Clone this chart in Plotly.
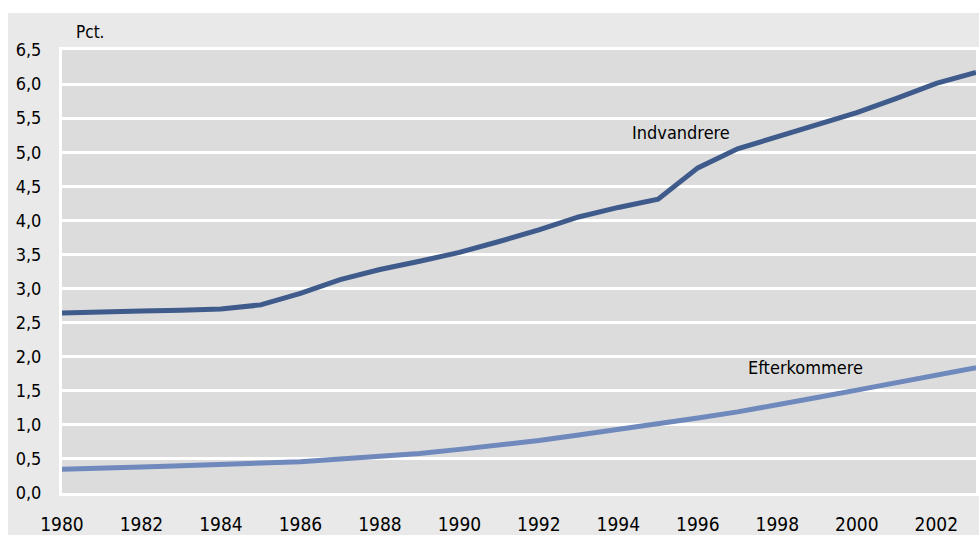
import plotly.graph_objects as go

years = list(range(1980, 2004))
indvandrere = [2.64, 2.66, 2.67, 2.68, 2.70, 2.76, 2.93, 3.13, 3.28, 3.40, 3.53, 3.69,
               3.86, 4.05, 4.19, 4.31, 4.77, 5.05, 5.23, 5.41, 5.58, 5.79, 6.01, 6.17]
efterkommere = [0.35, 0.36, 0.38, 0.40, 0.42, 0.44, 0.46, 0.50, 0.54, 0.58, 0.64, 0.70,
                0.77, 0.85, 0.93, 1.01, 1.10, 1.19, 1.29, 1.40, 1.51, 1.62, 1.73, 1.84]
y_ticks = [i * 0.5 for i in range(14)]
x_ticks = list(range(1980, 2004, 2))

FONT = "Liberation Sans Narrow, DejaVu Sans Condensed, Arial Narrow, sans-serif"
DARK = "#3f5b8c"
LIGHT = "#6f89bc"

fig = go.Figure()
fig.add_trace(go.Scatter(x=years, y=indvandrere, mode="lines", name="Indvandrere",
                         line=dict(color=DARK, width=5)))
fig.add_trace(go.Scatter(x=years, y=efterkommere, mode="lines", name="Efterkommere",
                         line=dict(color=LIGHT, width=5)))

W, H = 979, 535
L, R, T, B = 62, 3, 50, 42
pw, ph = W - L - R, H - T - B

def px2paper_x(X):
    return (X - L) / pw

def px2paper_y(Y):
    return (H - B - Y) / ph

fig.add_shape(type="rect", xref="paper", yref="paper",
              x0=px2paper_x(8), x1=px2paper_x(W + 10), y0=px2paper_y(H + 10), y1=px2paper_y(13),
              fillcolor="#e9e9e9", line=dict(width=0), layer="below")
fig.add_shape(type="rect", xref="paper", yref="paper", x0=0, x1=1, y0=0, y1=1,
              fillcolor="#dcdcdc", line=dict(width=0), layer="below")

fig.add_annotation(text="Pct.", xref="paper", yref="paper", x=px2paper_x(74), y=px2paper_y(32),
                   xanchor="left", yanchor="middle", showarrow=False,
                   font=dict(family=FONT, size=17, color="#000000"))
fig.add_annotation(text="Indvandrere", x=1995.58, y=5.29, showarrow=False,
                   xanchor="center", yanchor="middle",
                   font=dict(family=FONT, size=18, color="#000000"))
fig.add_annotation(text="Efterkommere", x=1998.70, y=1.84, showarrow=False,
                   xanchor="center", yanchor="middle",
                   font=dict(family=FONT, size=18, color="#000000"))

fig.update_layout(
    width=W, height=H,
    margin=dict(l=L, r=R, t=T, b=B, pad=0, autoexpand=False),
    paper_bgcolor="white",
    plot_bgcolor="rgba(0,0,0,0)",
    separators=",.",
    showlegend=False,
    font=dict(family=FONT, size=19, color="#000000"),
    xaxis=dict(range=[1980, 2003], tickvals=x_ticks, ticktext=[str(v) for v in x_ticks],
               automargin=False,
               showgrid=False, zeroline=False, showline=True, linecolor="white",
               linewidth=3, mirror=True, ticks="outside", ticklen=12,
               tickcolor="rgba(0,0,0,0)", tickfont=dict(family=FONT, size=19)),
    yaxis=dict(range=[0, 6.5], tickvals=y_ticks, tickformat=".1f",
               automargin=False,
               showgrid=True, gridcolor="white", gridwidth=3, zeroline=False,
               showline=True, linecolor="white", linewidth=3, mirror=True,
               ticks="outside", ticklen=14, tickcolor="rgba(0,0,0,0)",
               tickfont=dict(family=FONT, size=18)),
)

fig.write_html("out.html", config={"displayModeBar": False},
               post_script="document.body.style.margin='0';document.body.style.overflow='hidden';")
